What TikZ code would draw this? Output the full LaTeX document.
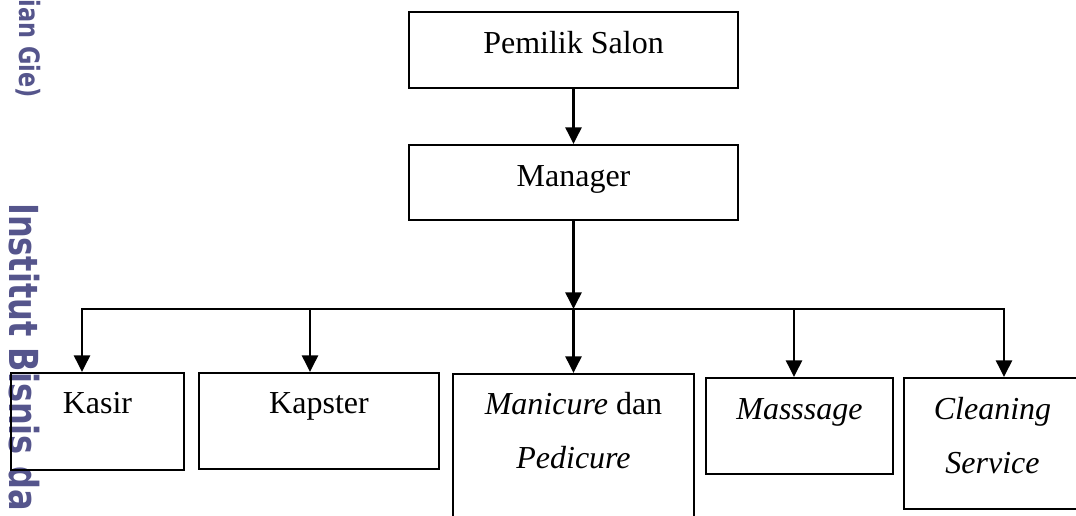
\documentclass[tikz,border=0pt]{standalone}
\usepackage{fontspec}
\setmainfont{Liberation Serif}
\newfontfamily\wmfont[FakeStretch=0.8]{DejaVu Sans}
\usepackage{xcolor}
\usetikzlibrary{arrows.meta,positioning}
\definecolor{wmblue}{RGB}{85,85,140}

\begin{document}
\begin{tikzpicture}[
    x=0.75pt, y=-0.75pt,
    role/.style={rectangle, draw, line width=1.5pt, inner sep=0pt, anchor=north west,
        align=center, text height=18pt, font=\fontsize{24}{40.5}\selectfont},
    arr/.style={->, >={Triangle[length=12.5pt,width=12pt]}, line width=1.9pt},
    bus/.style={line width=1.7pt, line cap=rect},
    wm/.style={text=wmblue, rotate=-90, inner sep=0pt}
]
    \useasboundingbox (0,0) rectangle (1076,515);
    \clip (0,0) rectangle (1076,515);

    % Watermark
    \node[wm, anchor=base east, font=\wmfont\bfseries\fontsize{21}{25}\selectfont] (wmtop) at (20,98) {ian Gie)};
    \node[wm, anchor=base west, font=\wmfont\bfseries\fontsize{30}{36}\selectfont] (wmside) at (10,203) {Institut Bisnis da};

    % Nodes
    \node[role, minimum width=246.75pt, minimum height=57pt, text depth=13.5pt] (owner) at (408,11) {Pemilik Salon};
    \node[role, minimum width=246.75pt, minimum height=56.25pt, text depth=12.75pt] (manager) at (408,144) {Manager};
    \node[role, minimum width=129.75pt, minimum height=72.75pt, text depth=30.75pt] (kasir) at (10,372) {Kasir};
    \node[role, minimum width=180pt, minimum height=72pt, text depth=30pt] (kapster) at (198,372) {Kapster};
    \node[role, minimum width=180.75pt, minimum height=110.25pt, text height=58.5pt, text depth=27.75pt] (manicure) at (452,373) {\textit{Manicure} dan\\\textit{Pedicure}};
    \node[role, minimum width=140.25pt, minimum height=72pt, text depth=28.5pt] (massage) at (705,377) {\textit{Masssage}};
    \node[role, minimum width=132.75pt, minimum height=98.25pt, text height=58.5pt, text depth=14.25pt] (cleaning) at (903,377) {\textit{Cleaning}\\\textit{Service}};

    % Bus points
    \coordinate (busL) at (82,309);
    \coordinate (busR) at (1004,309);
    \coordinate (dropK) at (310,309);
    \coordinate (dropM) at (794,309);

    % Connectors
    \draw[arr] (owner.south) -- (manager.north);
    \draw[arr] (manager.south) -- (manager.south |- busL);
    \draw[bus] (busL) -- (busR);
    \draw[arr] (busL) -- (busL |- kasir.north);
    \draw[arr] (dropK) -- (dropK |- kapster.north);
    \draw[arr] (manager.south |- busL) -- (manicure.north);
    \draw[arr] (dropM) -- (dropM |- massage.north);
    \draw[arr] (busR) -- (busR |- cleaning.north);

\end{tikzpicture}
\end{document}
